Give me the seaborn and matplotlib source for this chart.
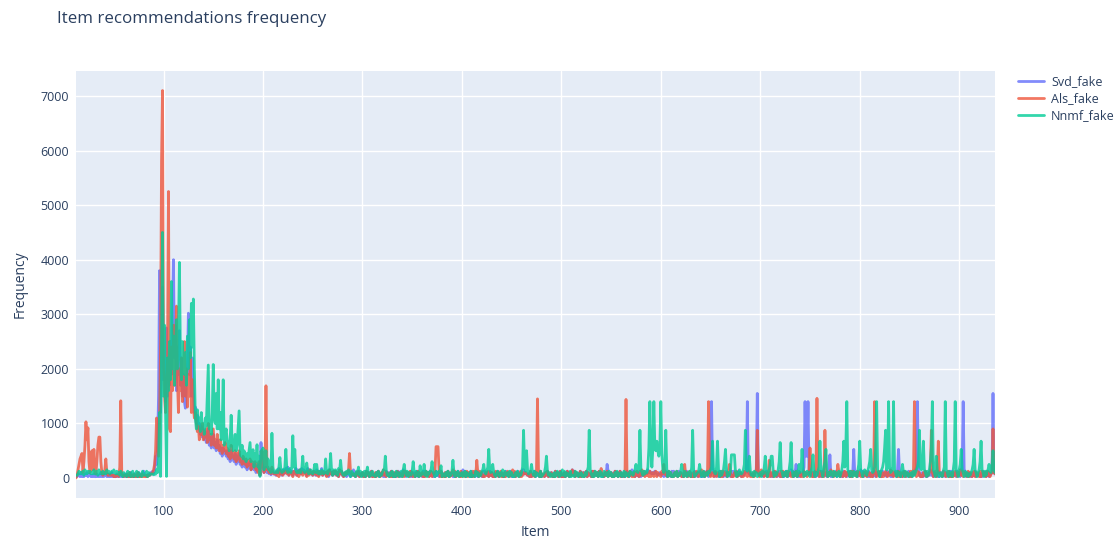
import matplotlib
matplotlib.use("Agg")
import matplotlib.pyplot as plt
import pandas as pd
import seaborn as sns

# ---------------- data ----------------
ITEM_START = 12          # first item on the x axis
PEAK_START = 90          # first item of the explicit peak lists
UNIT = 25                # one base-36 step in the low-level strings

series_names = ["Svd_fake", "Als_fake", "Nnmf_fake"]
series_colors = ["#636EFA", "#EF553B", "#00CC96"]
x_ticks = [100, 200, 300, 400, 500, 600, 700, 800, 900]
y_ticks = [0, 1000, 2000, 3000, 4000, 5000, 6000, 7000]

# low-level values, one char per item (base36 * 25), '.' = see peak list
svd_low = [
    "1132141213 2413212131 1312141213 2131214121 1312141213",  # 12-61
    "1312141213 1214122352 21232435.. .......... ..........",  # 62-111
    ".......... .......... .......... .......... ..........",  # 112-161
    ".......... .......... .......... .......... .........3",  # 162-211
    "4254735263 4748264525 4726453746 4527463425 4264253725",  # 212-261
    "3425163425 3524163521 3413521426 2142513241 3152412513",  # 262-311
    "2142513241 3152412513 1413521426 2514231512 4125143215",  # 312-361
    "1532415241 3152412513 2142513241 1413521426 2514231512",  # 362-411
    "4125143215 1532415241 2142513241 3152412513 1413521426",  # 412-461
    "6343231512 2514231512 2142513241 3152412513 1413521426",  # 462-511
    "2514231512 4125143215 1532415241 2142a53241 3152412513",  # 512-561
    "1413521426 2514231512 3234364543 4354323432 4125143215",  # 562-611
    "1532415241 2142513241 3152412513 141352142z 4514231512",  # 612-661
    "4125143215 1532415241 32346z4323 32346z4323 2142513241",  # 662-711
    "3152412513 1413521426 2514a31512 348zggz632 4125143215",  # 712-761
    "15324152h1 2142513241 3152412513 14l3521426 2514231512",  # 762-811
    "4125143215 1532415241 2142516l41 3152412513 142468z821",  # 812-861
    "1413521426 2514231512 4125143215 1532415241 48z6513241",  # 862-911
    "2142513241 3152412513 34z43",                             # 912-936
]
als_low = [
    "026aegi4co zszc48k6l4 3couuc4236 e422322212 12218z4212",
    "2131412131 2141213121 12122334.. .......... ..........",
    ".......... .......... .......... .......... ..........",
    ".......... .......... .......... .......... .........3",
    "3425163425 4535243415 3425163524 3415263425 3425143524",
    "3415263425 3524163521 34346i4323 2142513241 3152412513",
    "1413521426 2514231512 4125143215 1532415241 2142513241",
    "3152412513 36nnn61512 1413521426 2514231512 4125143215",
    "153d415241 2142513241 3152412513 1413521426 2514231512",
    "4343231512 3136z61513 2142513241 3152412513 1413521426",
    "2514231512 4125143215 1532415273 2142513241 3152412513",
    "314z413521 1413521426 2514231512 4125143215 3a42415241",
    "2142513241 31a2412513 1413521426 251426z612 4125143215",
    "1532415a41 2142513241 3152412513 14146z4126 2514231d12",
    "4125143215 1532415241 2142513241 31524125m3 14146z6152",
    "141z521426 251423a512 4125143215 1532415241 2142513241",
    "314z413521 1413521426 2514231512 4125143215 153z415241",
    "2142513246 z412516r43 3152412513 1413521426 2514231512",
    "4125143215 1532415241 34z43",
]
nnmf_low = [
    "2235343526 4354534363 3526343534 3645345464 3534253142",
    "3152412513 2514231523 25142333.. .......... ..........",
    ".......... .......... .......... .......... ..........",
    ".......... .......... .......... .......... .........4",
    "54648f6465 8l645748v8 l6454647g6 45b5346435 a4a4353643",
    "4e4357i526 364275d532 4253631542 3153825142 5148314252",
    "2142513246 6g52314251 3152412516 a42514325c 4152419253",
    "a2514356c4 3152454913 314251325d 4142513241 2514231512",
    "2152413256 a4358l645a 4213521426 1532415241 2142513248",
    "z85k6345a4 2514231512 348g524132 1413521426 2514231512",
    "2152413241 214258z631 3152412513 1532415241 2142513241",
    "2514231534 246a548z64 253548mzm8 mzmkrkgmzi 648z615241",
    "214251325a 4153142518 z612345a41 2513425468 r6438r6152",
    "46cl61425h hhh5142643 46az658g52 4152413241 538g5146ag",
    "g514246cq6 41425146cq 6142513a46 l614253415 8h514258r6",
    "418cl51425 3152412513 6cr8mz6415 4152415ar6 41564258cl",
    "6458mz6414 68cmz68z84 58z6415241 5a41524132 4152468cz8",
    "68r641526c mz641g5214 3158z64152 416cz6416a l641524132",
    "46al64146c r6415256a5 48k64",
]

# explicit values for items 90-210 (the popular-item peak)
svd_peak = [
    80, 150, 400, 250, 600, 1500, 3800, 1200, 2500, 3500,
    1800, 2200, 1400, 2750, 1500, 2200, 1700, 2500, 1900, 3000,
    4000, 2200, 2800, 1600, 2400, 1900, 2700, 1700, 2200, 1500,
    1900, 1400, 1280, 1700, 2000, 3020, 1900, 2400, 1500, 2200,
    1600, 1200, 1300, 1000, 1150, 900, 1000, 800, 950, 750,
    900, 700, 850, 650, 800, 900, 600, 750, 550, 700,
    800, 550, 650, 500, 700, 550, 600, 450, 550, 400,
    550, 450, 500, 400, 500, 350, 450, 300, 500, 400,
    350, 300, 450, 250, 400, 300, 450, 250, 300, 200,
    350, 250, 200, 300, 150, 250, 200, 300, 150, 250,
    200, 150, 250, 100, 200, 150, 250, 50, 650, 300,
    200, 100, 150, 200, 100, 150, 80, 120, 60, 150,
    80,
]
als_peak = [
    150, 250, 500, 1100, 700, 400, 1000, 2500, 5800, 7100,
    2000, 1500, 1200, 1800, 2200, 5250, 900, 850, 2400, 1600,
    2800, 1700, 2200, 3150, 1800, 1200, 2000, 1600, 2200, 1400,
    1800, 2500, 1500, 2000, 1300, 1900, 1500, 2300, 1200, 1800,
    1300, 1100, 1200, 1000, 850, 950, 700, 900, 800, 1000,
    700, 850, 750, 900, 650, 1000, 700, 800, 600, 750,
    900, 600, 700, 550, 800, 600, 500, 700, 550, 450,
    600, 500, 650, 450, 550, 400, 500, 350, 600, 450,
    400, 350, 500, 300, 450, 350, 500, 300, 350, 250,
    400, 300, 250, 350, 200, 300, 250, 350, 150, 300,
    250, 200, 300, 150, 250, 100, 300, 50, 250, 500,
    300, 100, 200, 1690, 150, 200, 100, 150, 80, 200,
    100,
]
nnmf_peak = [
    60, 80, 70, 150, 100, 300, 1200, 30, 2500, 4500,
    1500, 2800, 1200, 30, 2200, 1600, 2500, 1800, 3600, 2000,
    2600, 1700, 2400, 2900, 2000, 2600, 3950, 2200, 1800, 2500,
    2100, 1900, 2300, 1700, 2600, 2000, 2900, 2200, 3200, 2400,
    3280, 2000, 1100, 900, 1250, 1000, 1100, 850, 1200, 900,
    1000, 800, 1100, 950, 1500, 2070, 900, 1000, 800, 1200,
    2080, 1100, 1000, 1550, 900, 1800, 900, 1200, 700, 1000,
    1800, 600, 800, 900, 700, 600, 500, 700, 1150, 600,
    500, 600, 800, 500, 600, 900, 1230, 500, 400, 600,
    350, 500, 400, 300, 450, 350, 500, 650, 300, 400,
    520, 200, 450, 300, 610, 200, 400, 30, 500, 400,
    550, 150, 350, 500, 200, 350, 150, 300, 100, 820,
    200,
]

# isolated tall spikes outside the peak region
svd_spikes = {651: 1400, 687: 1400, 697: 1550, 745: 1400, 748: 1400,
              858: 1400, 904: 1400, 934: 1550}
als_spikes = {22: 1030, 24: 920, 57: 1415, 476: 1450, 565: 1440, 648: 1400,
              757: 1460, 815: 1400, 855: 1400, 934: 900}
nnmf_spikes = {589: 1400, 593: 1400, 600: 1400, 787: 1400, 817: 1400,
               829: 1400, 834: 1400, 873: 1400, 886: 1400, 896: 1400}


def decode(chunks, peak, spikes):
    s = "".join(chunks).replace(" ", "")
    assert len(s) == 925, len(s)
    assert len(peak) == 121, len(peak)
    vals = []
    for i, ch in enumerate(s):
        item = ITEM_START + i
        if item in spikes:
            v = spikes[item]
        elif ch == ".":
            v = peak[item - PEAK_START]
        else:
            v = int(ch, 36) * UNIT
        vals.append(v)
    return vals


frames = []
for name, low, peak, spikes in zip(
        series_names,
        [svd_low, als_low, nnmf_low],
        [svd_peak, als_peak, nnmf_peak],
        [svd_spikes, als_spikes, nnmf_spikes]):
    vals = decode(low, peak, spikes)
    frames.append(pd.DataFrame({
        "Item": list(range(ITEM_START, ITEM_START + len(vals))),
        "Frequency": vals,
        "Model": name,
    }))
df = pd.concat(frames, ignore_index=True)

# ---------------- style ----------------
sns.set_style("darkgrid", {"axes.facecolor": "#E5ECF6", "grid.color": "white"})
plt.rcParams["font.family"] = ["Open Sans", "DejaVu Sans"]
TXT = "#2a3f5f"

W, H = 1120, 543
fig = plt.figure(figsize=(W / 100, H / 100), dpi=100)
fig.patch.set_facecolor("white")
L, R, T, B = 76, 995, 71, 498
ax = fig.add_axes([L / W, 1 - B / H, (R - L) / W, (B - T) / H])

sns.lineplot(data=df, x="Item", y="Frequency", hue="Model",
             hue_order=series_names, palette=series_colors,
             linewidth=2, alpha=0.8, estimator=None, sort=False,
             ax=ax)

ax.set_xlim(df["Item"].min(), df["Item"].max())
ax.set_ylim(-366, 7458)
ax.set_xticks(x_ticks)
ax.set_yticks(y_ticks)
ax.set_axisbelow(True)
ax.grid(True, color="white", linewidth=1)
ax.axhline(0, color="white", linewidth=2, zorder=1.2)
for sp in ax.spines.values():
    sp.set_visible(False)
ax.tick_params(axis="both", length=0, labelsize=9, colors=TXT, pad=5)
ax.set_xlabel("")
ax.set_ylabel("")

handles, labels = ax.get_legend_handles_labels()
leg = ax.legend(handles, labels, loc="upper left",
                bbox_to_anchor=((1018 - L) / (R - L), (B - 75) / (B - T)),
                frameon=False, fontsize=9, handlelength=2.1,
                handletextpad=0.55, labelspacing=0.32,
                borderpad=0, borderaxespad=0)
for t in leg.get_texts():
    t.set_color(TXT)
for h in leg.get_lines():
    h.set_linewidth(2)
    h.set_alpha(0.8)

fig.text(57 / W, 1 - 19 / H, "Item recommendations frequency",
         fontsize=12.2, color=TXT, ha="left", va="center")
fig.text((L + R) / 2 / W, 1 - 533 / H, "Item", fontsize=10, color=TXT,
         ha="center", va="center")
fig.text(20 / W, 1 - 284 / H, "Frequency", fontsize=10, color=TXT,
         ha="center", va="center", rotation=90)

fig.savefig("out.png", dpi=100, facecolor="white")
